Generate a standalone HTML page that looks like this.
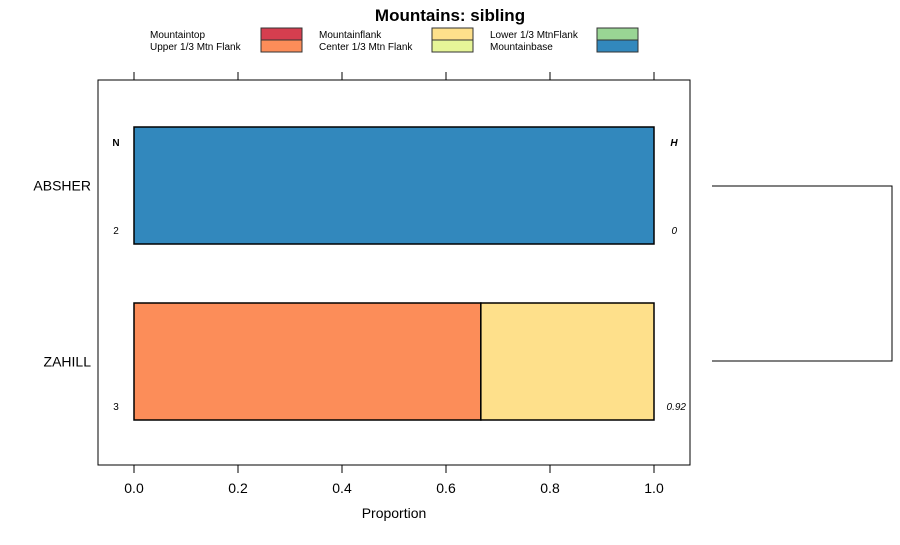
<!DOCTYPE html>
<html><head><meta charset="utf-8"><style>
body{margin:0;background:#fff;}
svg text{font-family:"Liberation Sans",sans-serif;}
</style></head><body>
<svg width="900" height="540" xmlns="http://www.w3.org/2000/svg">
<text x="450" y="21" text-anchor="middle" font-size="17" font-weight="bold">Mountains: sibling</text>
<g id="legend"></g>
<rect x="98" y="80" width="592" height="385" fill="none" stroke="#000" stroke-width="1"/>
<g id="axes"></g>
<g id="bars"></g>
<text x="394" y="518" text-anchor="middle" font-size="14">Proportion</text>
<path d="M712,186 H892 V361 H712" fill="none" stroke="#000" stroke-width="1"/>
</svg>
<script>
const categories=["ABSHER","ZAHILL"];
const seriesNames=["Mountaintop","Upper 1/3 Mtn Flank","Mountainflank","Center 1/3 Mtn Flank","Lower 1/3 MtnFlank","Mountainbase"];
const seriesColors=["#d53e4f","#fc8d59","#fee08b","#e6f598","#99d594","#3288bd"];
const absherValues=[0,0,0,0,0,1];
const zahillValues=[0,0.667,0.333,0,0,0];
const nValues=[2,3];
const hValues=["0","0.92"];
const ticks=[0,0.2,0.4,0.6,0.8,1.0];
const tickLabels=["0.0","0.2","0.4","0.6","0.8","1.0"];
const NS="http://www.w3.org/2000/svg";
const xs=v=>134+v*520;
const rowY=[127,303], barH=117;
function mk(t,a,p){const e=document.createElementNS(NS,t);for(const k in a)e.setAttribute(k,a[k]);p.appendChild(e);return e;}
const axes=document.getElementById('axes');
ticks.forEach((t,i)=>{
 const a=mk('line',{x1:xs(t),x2:xs(t),y1:465,y2:473,stroke:'#000'},axes);
 
 
 const b=mk('line',{x1:xs(t),x2:xs(t),y1:72,y2:80,stroke:'#000'},axes);
 
 
 const l=mk('text',{x:xs(t),y:493,'text-anchor':'middle','font-size':14},axes);
 l.textContent=tickLabels[i];
 
 
});
const bars=document.getElementById('bars');
const all=[absherValues,zahillValues];
categories.forEach((c,r)=>{
 const y=rowY[r];
 const lab=mk('text',{x:91,y:y+barH/2+5,'text-anchor':'end','font-size':14},bars);
 lab.textContent=c;
 
 
 let cum=0;
 all[r].forEach((v,s)=>{
  if(v<=0)return;
  const rc=mk('rect',{x:xs(cum),y:y,width:xs(cum+v)-xs(cum),height:barH,fill:seriesColors[s],stroke:'#000','stroke-width':1.5},bars);
  
  
  cum+=v;
 });
 const n=mk('text',{x:116,y:y+107,'text-anchor':'middle','font-size':10},bars);
 n.textContent=nValues[r];
 
 
 const h=mk('text',{x:r?686:677,y:y+107,'text-anchor':'end','font-size':10,'font-style':'italic'},bars);
 h.textContent=hValues[r];
 
 
});
const nh=mk('text',{x:116,y:146,'text-anchor':'middle','font-size':10,'font-weight':'bold'},bars);
nh.textContent='N';


const hh=mk('text',{x:674,y:146,'text-anchor':'middle','font-size':10,'font-weight':'bold','font-style':'italic'},bars);
hh.textContent='H';


const lg=document.getElementById('legend');
const colX=[150,319,490], boxX=[261,432,597];
seriesNames.forEach((nm,i)=>{
 const c=Math.floor(i/2), r=i%2;
 const t=mk('text',{x:colX[c],y:38+r*12,'font-size':10},lg);
 t.textContent=nm;
 
 
 const b=mk('rect',{x:boxX[c],y:28+r*12,width:41,height:12,fill:seriesColors[i],stroke:'#333','stroke-width':1},lg);
 
 
});
</script>
</body></html>
